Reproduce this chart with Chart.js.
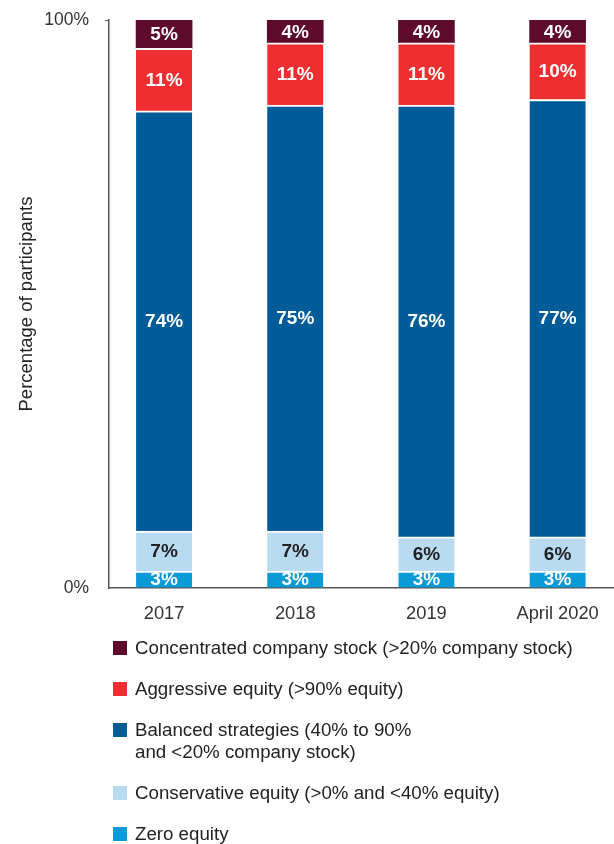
<!DOCTYPE html>
<html>
<head>
<meta charset="utf-8">
<script src="https://cdn.jsdelivr.net/npm/chart.js@4"></script>
<style>
  html, body { margin: 0; padding: 0; background: #fff; overflow: hidden; }
  #wrap { position: relative; width: 614px; height: 844px; }
  canvas { position: absolute; left: 0; top: 0; }
  #legend { position: absolute; left: 113px; top: 637px; font-family: "Liberation Sans", Arial, sans-serif; font-size: 18.7px; color: #222; }
  .item { position: relative; padding-left: 22px; line-height: 22px; margin-bottom: 19px; white-space: nowrap; }
  .sw { position: absolute; left: 0; top: 4px; width: 14px; height: 14px; }
</style>
</head>
<body>
<div id="wrap">
  <canvas id="c" width="614" height="844"></canvas>
  <div id="legend"></div>
</div>
<script>
const categories = ["2017", "2018", "2019", "April 2020"];
const seriesNames = [
  "Zero equity",
  "Conservative equity (>0% and <40% equity)",
  "Balanced strategies (40% to 90%\nand <20% company stock)",
  "Aggressive equity (>90% equity)",
  "Concentrated company stock (>20% company stock)"
];
const zeroEquity = [3, 3, 3, 3];
const conservative = [7, 7, 6, 6];
const balanced = [74, 75, 76, 77];
const aggressive = [11, 11, 11, 10];
const concentrated = [5, 4, 4, 4];
const seriesColors = ["#0a9ad8", "#b9dbf2", "#005b99", "#ee2e31", "#5e0a2b"];
const labelColors = ["#fff", "#222", "#fff", "#fff", "#fff"];
const yTicks = [0, 100];
const yTitle = "Percentage of participants";

const seriesValues = [zeroEquity, conservative, balanced, aggressive, concentrated];
const datasets = seriesValues.map((vals, i) => ({
  label: seriesNames[i],
  data: vals.map((v, j) => ({ x: j, y: v })),
  backgroundColor: seriesColors[i],
  borderColor: "#ffffff",
  borderWidth: i === seriesValues.length - 1 ? 0 : { top: 2, bottom: 0, left: 0, right: 0 },
  borderSkipped: false,
  barThickness: 56,
  _labelColor: labelColors[i]
}));

const labelPlugin = {
  id: "segLabels",
  afterDatasetsDraw(chart) {
    const ctx = chart.ctx;
    ctx.save();
    ctx.font = "bold 19px 'Liberation Sans', Arial, sans-serif";
    ctx.textAlign = "center";
    ctx.textBaseline = "middle";
    chart.data.datasets.forEach((ds, i) => {
      const meta = chart.getDatasetMeta(i);
      meta.data.forEach((el, j) => {
        const v = ds.data[j].y;
        ctx.fillStyle = ds._labelColor;
        ctx.fillText(v + "%", el.x, (el.y + el.base) / 2 + 1);
      });
    });
    ctx.restore();
  }
};

const fam = "'Liberation Sans', Arial, sans-serif";

new Chart(document.getElementById("c"), {
  type: "bar",
  data: { datasets },
  plugins: [labelPlugin],
  options: {
    responsive: false,
    animation: false,
    layout: { padding: { top: 20, left: 0, right: 0, bottom: 216 } },
    plugins: { legend: { display: false }, tooltip: { enabled: false } },
    scales: {
      x: {
        type: "linear",
        stacked: true,
        offset: false,
        min: -0.42,
        max: 3.43,
        afterBuildTicks(s) { s.ticks = categories.map((c, i) => ({ value: i })); },
        afterFit(s) { s.height = 40; s.paddingLeft = 0; s.paddingRight = 0; },
        ticks: {
          callback: (v) => categories[v],
          font: { family: fam, size: 18.3 }, color: "#333", padding: 15, maxRotation: 0, autoSkip: false
        },
        grid: { display: false, drawTicks: false },
        border: { display: true, color: "#555", width: 1.5 }
      },
      y: {
        stacked: true,
        min: 0,
        max: 100,
        afterBuildTicks(s) { s.ticks = yTicks.map(v => ({ value: v })); },
        afterFit(s) { s.width = 109; s.paddingTop = 0; s.paddingBottom = 0; },
        ticks: {
          callback: (v) => v + "%",
          font: { family: fam, size: 17.5 }, color: "#333", padding: 16
        },
        grid: {
          drawOnChartArea: false, drawTicks: true, tickLength: 4,
          color: (c) => (c.tick && c.tick.value === 100) ? "#555" : "rgba(0,0,0,0)"
        },
        border: { display: true, color: "#555", width: 1.5 },
        title: {
          display: true, text: yTitle, color: "#222",
          font: { family: fam, size: 18.5 },
          padding: { top: 16, bottom: 0 }
        }
      }
    }
  }
});

const leg = document.getElementById("legend");
for (let i = seriesNames.length - 1; i >= 0; i--) {
  const d = document.createElement("div");
  d.className = "item";
  const sw = document.createElement("span");
  sw.className = "sw";
  sw.style.background = seriesColors[i];
  d.appendChild(sw);
  seriesNames[i].split("\n").forEach((line, k) => {
    if (k > 0) d.appendChild(document.createElement("br"));
    d.appendChild(document.createTextNode(line));
  });
  leg.appendChild(d);
}
</script>
</body>
</html>
